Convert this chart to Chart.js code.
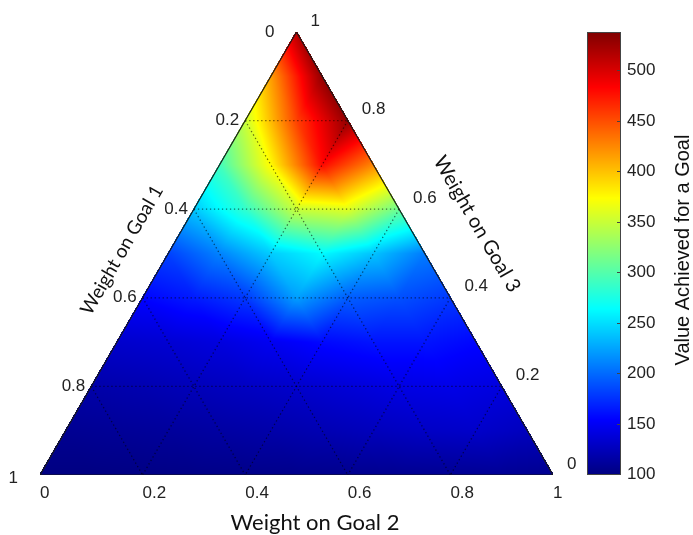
<!DOCTYPE html>
<html>
<head>
<meta charset="utf-8">
<script src="https://cdn.jsdelivr.net/npm/chart.js@4.4.0/dist/chart.umd.min.js"></script>
<style>
  html, body { margin: 0; padding: 0; background: #fff; }
</style>
</head>
<body>
<canvas id="myChart" width="693" height="535"></canvas>
<script>
// tick values on the three sides
var axisTicks = [0, 0.2, 0.4, 0.6, 0.8, 1];
var gridTicks = [0.2, 0.4, 0.6, 0.8];
var colorTicks = [100, 150, 200, 250, 300, 350, 400, 450, 500];
var colorMin = 99;
var colorMax = 538;

// value achieved at the mesh nodes, one row per 0.1 step of Goal 1 weight
// (apex = 0 down to the bottom = 1), nodes listed left to right
var row0 = [515];
var row1 = [415, 530];
var row2 = [350, 455, 530];
var row3 = [292, 375, 480, 425];
var row4 = [240, 285, 350, 360, 310];
var row5 = [182, 210, 242, 262, 238, 207];
var row6 = [155, 165, 178, 222, 194, 188, 178];
var row7 = [132, 135, 140, 148, 157, 162, 162, 156];
var row8 = [117, 120, 124, 128, 132, 137, 142, 144, 140];
var row9 = [107, 109, 111, 114, 117, 121, 125, 129, 131, 126];
var row10 = [100, 100, 101, 102, 103, 104, 105, 106, 107, 108, 106];
var rows = [row0, row1, row2, row3, row4, row5, row6, row7, row8, row9, row10];

var H = Math.sqrt(3) / 2;

function jet(n) {
    n = Math.max(0, Math.min(1, n));
    function c(v) { return Math.round(255 * Math.max(0, Math.min(1, v))); }
    return [c(1.5 - Math.abs(4 * n - 3)), c(1.5 - Math.abs(4 * n - 2)), c(1.5 - Math.abs(4 * n - 1))];
}

// linear interpolation inside the triangle mesh
function valueAt(r, s) {
    var N = rows.length - 1;
    var a = r * N, b = s * N;
    var i = Math.min(Math.floor(a), N - 1);
    var j = Math.min(Math.floor(b), i);
    var fa = a - i, fb = b - j;
    var v00 = rows[i][j], v10 = rows[i + 1][j], v11 = rows[i + 1][j + 1];
    if (fb <= fa || rows[i][j + 1] === undefined) {
        return v00 + fa * (v10 - v00) + fb * (v11 - v10);
    }
    var v01 = rows[i][j + 1];
    return v00 + fb * (v01 - v00) + fa * (v11 - v01);
}

function pt(r, s) {
    return { x: 0.5 - r / 2 + s, y: H * (1 - r) };
}

var datasets = [];
datasets.push({
    data: [pt(0, 0), pt(1, 0), pt(1, 1), pt(0, 0)],
    showLine: true, borderColor: '#1a1a1a', borderWidth: 1.2, pointRadius: 0
});
gridTicks.forEach(function (t) {
    var lines = [
        [pt(t, 0), pt(t, t)],        // horizontal
        [pt(t, t), pt(1, t)],        // parallel to left side
        [pt(t, 0), pt(1, 1 - t)]     // parallel to right side
    ];
    lines.forEach(function (l) {
        datasets.push({
            data: l, showLine: true, borderColor: 'rgba(0,0,0,0.55)',
            borderWidth: 1.3, borderDash: [1.3, 2.7], pointRadius: 0
        });
    });
});

var heatmapPlugin = {
    id: 'heatmap',
    beforeDatasetsDraw: function (chart) {
        var area = chart.chartArea;
        var xs = chart.scales.x, ys = chart.scales.y;
        var w = Math.ceil(area.right - area.left), h = Math.ceil(area.bottom - area.top);
        var off = document.createElement('canvas');
        off.width = w; off.height = h;
        var octx = off.getContext('2d');
        var img = octx.createImageData(w, h);
        var eps = 0.002;
        for (var py = 0; py < h; py++) {
            var yd = ys.getValueForPixel(area.top + py + 0.5);
            var r = 1 - yd / H;
            if (r < -eps || r > 1 + eps) continue;
            r = Math.max(0, Math.min(1, r));
            for (var px = 0; px < w; px++) {
                var xd = xs.getValueForPixel(area.left + px + 0.5);
                var s = xd - 0.5 + r / 2;
                if (s < -eps || s > r + eps) continue;
                s = Math.max(0, Math.min(r, s));
                var v = valueAt(r, s);
                var c = jet((v - colorMin) / (colorMax - colorMin));
                var k = (py * w + px) * 4;
                img.data[k] = c[0]; img.data[k + 1] = c[1]; img.data[k + 2] = c[2]; img.data[k + 3] = 255;
            }
        }
        octx.putImageData(img, 0, 0);
        chart.ctx.drawImage(off, area.left, area.top);
    },
    afterDraw: function (chart) {
        var ctx = chart.ctx;
        var xs = chart.scales.x, ys = chart.scales.y, cs = chart.scales.cb;
        function px(p) { return [xs.getPixelForValue(p.x), ys.getPixelForValue(p.y)]; }

        ctx.save();
        ctx.fillStyle = '#222';
        ctx.font = '17px "Liberation Sans", Arial, sans-serif';
        ctx.textBaseline = 'middle';

        // Goal 1 ticks on the left side
        ctx.textAlign = 'right';
        axisTicks.forEach(function (t) {
            var p = px(pt(t, 0));
            var dx = (t === 0 || t === 1) ? -22 : -6;
            var dy = t === 1 ? 3 : 0;
            ctx.fillText(String(t), p[0] + dx, p[1] + dy);
        });
        // Goal 3 ticks on the right side
        ctx.textAlign = 'left';
        axisTicks.forEach(function (t) {
            var p = px(pt(1 - t, 1 - t));
            ctx.fillText(String(t), p[0] + 14, p[1] - 11);
        });
        // Goal 2 ticks on the bottom
        axisTicks.forEach(function (t) {
            var p = px(pt(1, t));
            ctx.fillText(String(t), p[0], p[1] + 18);
        });

        // colour bar
        var cbLeft = 587, cbWidth = 34;
        var top = cs.getPixelForValue(colorMax), bottom = cs.getPixelForValue(colorMin);
        for (var y = Math.floor(top); y < bottom; y++) {
            var c = jet((cs.getValueForPixel(y + 0.5) - colorMin) / (colorMax - colorMin));
            ctx.fillStyle = 'rgb(' + c.join(',') + ')';
            ctx.fillRect(cbLeft, y, cbWidth, 1);
        }
        ctx.strokeStyle = '#444';
        ctx.lineWidth = 1;
        ctx.strokeRect(cbLeft + 0.5, Math.round(top) + 0.5, cbWidth - 1, Math.round(bottom - top) - 1);
        ctx.fillStyle = '#222';
        ctx.textAlign = 'left';
        colorTicks.forEach(function (v) {
            var y = Math.round(cs.getPixelForValue(v)) + 0.5;
            ctx.beginPath();
            ctx.moveTo(cbLeft + cbWidth - 4, y); ctx.lineTo(cbLeft + cbWidth, y);
            ctx.stroke();
            ctx.fillText(String(v), cbLeft + cbWidth + 6, y);
        });

        // axis titles
        ctx.fillStyle = '#111';
        ctx.textAlign = 'center';
        ctx.font = '22px Lato, "Open Sans", sans-serif';
        ctx.fillText('Weight on Goal 2', 315, 523);

        ctx.font = '19px Lato, "Open Sans", sans-serif';
        ctx.save();
        ctx.translate(122, 250);
        ctx.rotate(-Math.PI / 3);
        ctx.fillText('Weight on Goal 1', 0, 0);
        ctx.restore();

        ctx.font = '20px Lato, "Open Sans", sans-serif';
        ctx.save();
        ctx.translate(477, 224);
        ctx.rotate(Math.PI / 3);
        ctx.fillText('Weight on Goal 3', 0, 0);
        ctx.restore();

        ctx.font = '20px "Liberation Sans", Arial, sans-serif';
        ctx.save();
        ctx.translate(683, 250);
        ctx.rotate(-Math.PI / 2);
        ctx.fillText('Value Achieved for a Goal', 0, 0);
        ctx.restore();
        ctx.restore();
    }
};

var ctx = document.getElementById('myChart').getContext('2d');
var myChart = new Chart(ctx, {
    type: 'scatter',
    data: { datasets: datasets },
    options: {
        responsive: false,
        animation: false,
        devicePixelRatio: 1,
        layout: { padding: { left: 40, right: 140, top: 32, bottom: 60 } },
        plugins: { legend: { display: false }, tooltip: { enabled: false } },
        scales: {
            x: { type: 'linear', min: 0, max: 1, display: false },
            y: { type: 'linear', min: 0, max: H, display: false },
            cb: { type: 'linear', axis: 'y', min: colorMin, max: colorMax, display: false }
        }
    },
    plugins: [heatmapPlugin]
});
</script>
</body>
</html>
